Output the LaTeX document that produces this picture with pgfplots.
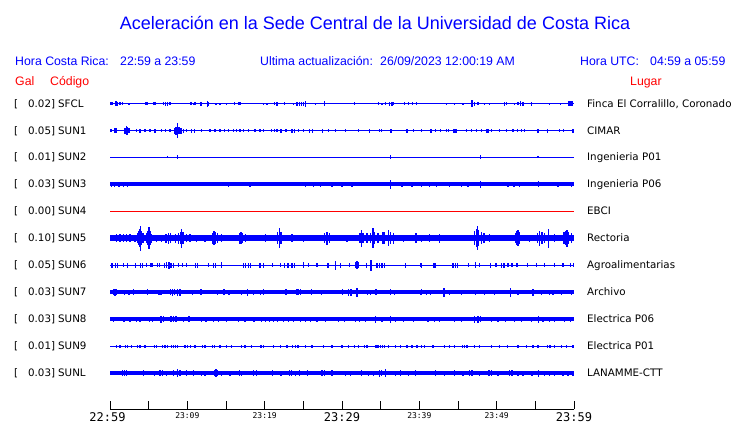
\documentclass[border=0pt]{standalone}
\usepackage{fontspec}
\setmainfont{DejaVu Sans}
\newfontfamily\arialf{Liberation Sans}
\newfontfamily\monof{DejaVu Sans Mono}
\usepackage{pgfplots}
\pgfplotsset{compat=1.18}
\usepackage{pgfplotstable}

% bursts: x = minutes after 22:59, y = trace baseline, e = half amplitude (px)
\pgfplotstableread{
x y e
0.13 -103.7 1.5
0.30 -103.7 1.5
0.77 -103.7 2.5
0.94 -103.7 2.0
1.29 -103.7 1.5
1.59 -103.7 1.5
2.45 -103.7 1.2
4.65 -103.7 1.5
4.87 -103.7 1.5
5.60 -103.7 1.5
5.82 -103.7 1.5
6.89 -103.7 1.5
7.20 -103.7 2
7.45 -103.7 2
7.76 -103.7 1.5
10.47 -103.7 1.5
10.77 -103.7 1.2
10.99 -103.7 1.5
11.72 -103.7 2
11.85 -103.7 2
12.58 -103.7 3
12.71 -103.7 2
13.70 -103.7 1.2
14.22 -103.7 1.2
15.08 -103.7 1.2
16.07 -103.7 1.5
16.59 -103.7 1.5
16.81 -103.7 1.5
19.87 -103.7 1.2
20.30 -103.7 1.2
21.30 -103.7 1.5
21.60 -103.7 2
22.59 -103.7 1.5
23.75 -103.7 1.2
24.19 -103.7 2
24.49 -103.7 2
24.75 -103.7 2
25.05 -103.7 2
25.26 -103.7 3
26.56 -103.7 1.2
27.72 -103.7 2.5
31.60 -103.7 1.5
34.75 -103.7 1.5
35.18 -103.7 1.2
35.61 -103.7 1.5
36.17 -103.7 2
36.47 -103.7 2
36.69 -103.7 1.5
38.07 -103.7 1.5
38.62 -103.7 1.5
39.14 -103.7 1.5
39.62 -103.7 1.5
43.49 -103.7 1.2
44.57 -103.7 1.2
45.65 -103.7 1.2
46.81 -103.7 3.3
47.16 -103.7 2
47.59 -103.7 1.5
48.45 -103.7 1.2
49.10 -103.7 1.2
51.04 -103.7 2
51.25 -103.7 1.5
52.33 -103.7 1.2
52.76 -103.7 1.5
53.10 -103.7 2.5
53.41 -103.7 2
54.49 -103.7 2
56.86 -103.7 1.2
58.28 -103.7 1.2
59.31 -103.7 2.3
59.50 -103.7 2.3
59.66 -103.7 2.3
59.85 -103.7 2.3
}\tSFCL

\pgfplotstableread{
x y e
0.13 -130.5 1.5
0.56 -130.5 2.3
0.77 -130.5 2.3
1.94 -130.5 3
2.11 -130.5 4.3
2.28 -130.5 4
2.45 -130.5 2.5
3.44 -130.5 1.5
3.88 -130.5 2
4.52 -130.5 1.5
5.17 -130.5 1.5
5.82 -130.5 2
6.68 -130.5 1.5
7.20 -130.5 1.5
7.76 -130.5 1.5
8.32 -130.5 3
8.53 -130.5 4
8.70 -130.5 7.5
8.92 -130.5 3.5
9.18 -130.5 3
9.48 -130.5 2
9.91 -130.5 1.5
10.56 -130.5 2
10.90 -130.5 2
11.85 -130.5 1.5
12.93 -130.5 1.5
13.57 -130.5 1.5
14.22 -130.5 1.5
14.78 -130.5 1.5
15.30 -130.5 1.5
15.95 -130.5 1.5
16.38 -130.5 1.5
16.81 -130.5 1.5
17.24 -130.5 1.5
17.88 -130.5 1.5
18.75 -130.5 1.5
19.39 -130.5 1.5
19.88 -130.5 1.5
20.87 -130.5 1.5
21.30 -130.5 1.5
21.60 -130.5 1.5
22.12 -130.5 2
22.76 -130.5 1.5
23.54 -130.5 2
23.84 -130.5 2
24.40 -130.5 1.5
25.05 -130.5 1.5
25.82 -130.5 2
26.21 -130.5 2
27.50 -130.5 2
28.28 -130.5 1.5
29.14 -130.5 1.5
30.44 -130.5 1.5
32.16 -130.5 1.5
33.54 -130.5 2
34.83 -130.5 1.5
35.09 -130.5 1.5
36.34 -130.5 2
38.41 -130.5 2
39.27 -130.5 1.5
40.26 -130.5 1.5
41.51 -130.5 2
42.11 -130.5 1.5
42.76 -130.5 1.5
43.49 -130.5 1.5
43.80 -130.5 1.5
44.49 -130.5 2
44.74 -130.5 2
46.08 -130.5 1.5
46.73 -130.5 1.5
47.37 -130.5 1.5
48.02 -130.5 1.5
48.75 -130.5 2
48.97 -130.5 2
49.31 -130.5 1.5
50.39 -130.5 1.5
51.25 -130.5 1.5
52.11 -130.5 1.5
52.67 -130.5 1.5
53.19 -130.5 1.5
53.62 -130.5 1.5
55.35 -130.5 2
56.55 -130.5 2
58.15 -130.5 1.5
58.67 -130.5 1.5
59.87 -130.5 2
}\tSUNa

\pgfplotstableread{
x y e
7.41 -157.3 1
8.70 -157.3 2
36.25 -157.3 2
47.89 -157.3 2
55.35 -157.3 1
}\tSUNb

\pgfplotstableread{
x y e
0.21 -184.3 2.5
0.56 -184.3 2.5
1.16 -184.3 2.5
1.72 -184.3 2.5
2.28 -184.3 2.5
15.30 -184.3 2.5
18.10 -184.3 2.5
25.26 -184.3 2.5
26.34 -184.3 2.5
27.20 -184.3 2.5
28.71 -184.3 2.5
30.00 -184.3 2.5
31.30 -184.3 2.5
36.25 -184.3 4.5
37.76 -184.3 2.5
39.06 -184.3 2.5
40.26 -184.3 2.5
41.34 -184.3 2.5
42.20 -184.3 2.5
43.92 -184.3 2.5
45.43 -184.3 2.5
46.30 -184.3 2.5
47.89 -184.3 3.5
51.47 -184.3 2.5
52.24 -184.3 2.5
52.98 -184.3 2.5
55.43 -184.3 3
57.93 -184.3 2.5
59.66 -184.3 2.5
}\tSUNc

\pgfplotstableread{
x y e
0.21 -238.1 3.3
0.86 -238.1 4
1.29 -238.1 4
1.72 -238.1 3.7
2.15 -238.1 4
2.58 -238.1 3.7
3.23 -238.1 3.5
3.57 -238.1 5
3.75 -238.1 7
3.88 -238.1 9
3.96 -238.1 12.5
4.09 -238.1 7
4.26 -238.1 5
4.74 -238.1 5
4.91 -238.1 7
5.04 -238.1 11
5.17 -238.1 7
5.38 -238.1 4.5
6.03 -238.1 3.5
6.68 -238.1 3.5
7.24 -238.1 4.5
7.54 -238.1 5.5
7.84 -238.1 5
8.49 -238.1 4.5
8.83 -238.1 5.5
9.09 -238.1 6
9.26 -238.1 9.5
9.44 -238.1 6
9.91 -238.1 4
10.34 -238.1 4
11.20 -238.1 3.5
12.28 -238.1 3.5
13.23 -238.1 5.5
13.44 -238.1 7
13.66 -238.1 6
13.88 -238.1 5
14.44 -238.1 4
15.73 -238.1 3.3
16.72 -238.1 5.5
16.94 -238.1 6
17.11 -238.1 5
17.54 -238.1 4
18.75 -238.1 3.3
19.61 -238.1 3.3
20.09 -238.1 4
21.69 -238.1 6
21.90 -238.1 10
22.12 -238.1 6
23.54 -238.1 4
25.05 -238.1 3.5
27.76 -238.1 5
28.07 -238.1 6.5
28.37 -238.1 5
30.65 -238.1 3.5
32.33 -238.1 5
32.50 -238.1 8.5
32.72 -238.1 5
33.24 -238.1 5
33.67 -238.1 5
34.01 -238.1 10
34.23 -238.1 6
34.66 -238.1 5
35.30 -238.1 6
35.52 -238.1 6
36.04 -238.1 8
36.30 -238.1 6
36.69 -238.1 5.5
37.98 -238.1 3.5
39.57 -238.1 5
40.26 -238.1 3.5
41.34 -238.1 4
42.63 -238.1 4.5
45.00 -238.1 3.3
47.16 -238.1 7
47.37 -238.1 9
47.50 -238.1 12
47.67 -238.1 8
48.02 -238.1 6
48.36 -238.1 5
49.10 -238.1 4
51.04 -238.1 3.3
52.42 -238.1 5
52.63 -238.1 7
52.76 -238.1 8
52.98 -238.1 6
54.27 -238.1 3.5
55.26 -238.1 5
55.56 -238.1 7.5
55.86 -238.1 6
56.21 -238.1 5
56.68 -238.1 9.5
57.50 -238.1 4
58.71 -238.1 6
58.93 -238.1 7
59.10 -238.1 8.5
59.31 -238.1 6
59.66 -238.1 5
}\tSUNe

\pgfplotstableread{
x y e
0.21 -265.2 2.5
0.34 -265.2 2.5
0.73 -265.2 2.5
0.94 -265.2 2.5
1.72 -265.2 2
2.28 -265.2 2.5
3.27 -265.2 2.5
3.92 -265.2 2.5
4.18 -265.2 2.5
4.74 -265.2 2
5.30 -265.2 2
5.47 -265.2 2
6.16 -265.2 2
6.38 -265.2 2
7.02 -265.2 2.5
7.32 -265.2 3
7.63 -265.2 3.3
7.88 -265.2 2.5
8.19 -265.2 2.5
8.83 -265.2 2
9.35 -265.2 2
9.91 -265.2 2
11.07 -265.2 2.5
11.33 -265.2 2.5
12.71 -265.2 2
13.36 -265.2 2.5
13.66 -265.2 2.5
14.44 -265.2 3
17.24 -265.2 2.5
17.54 -265.2 2.5
17.88 -265.2 2.5
18.19 -265.2 2.5
19.39 -265.2 2.5
19.82 -265.2 2.5
19.88 -265.2 2.5
21.04 -265.2 2
22.03 -265.2 2
22.59 -265.2 2.5
23.02 -265.2 2.5
23.54 -265.2 2.5
23.88 -265.2 2.5
25.05 -265.2 3
25.69 -265.2 2
26.77 -265.2 2
28.19 -265.2 2.5
29.14 -265.2 4.3
29.79 -265.2 2.5
30.95 -265.2 2
31.73 -265.2 3
31.94 -265.2 4
32.16 -265.2 3
33.19 -265.2 2.5
33.75 -265.2 5.5
34.53 -265.2 2.5
34.83 -265.2 2.5
35.18 -265.2 2.5
35.52 -265.2 2.5
38.19 -265.2 2.5
40.13 -265.2 2
40.26 -265.2 2.5
41.90 -265.2 2.5
42.11 -265.2 2.5
44.36 -265.2 2.5
44.66 -265.2 2.5
44.92 -265.2 2.5
46.38 -265.2 2
47.24 -265.2 3
47.80 -265.2 2
49.23 -265.2 2.5
49.92 -265.2 2
50.61 -265.2 2.5
50.95 -265.2 2.5
51.47 -265.2 2
51.99 -265.2 2
52.63 -265.2 2
53.97 -265.2 2
55.13 -265.2 2
56.21 -265.2 2
57.50 -265.2 2
58.58 -265.2 2
59.57 -265.2 2
59.92 -265.2 2
}\tSUNf

\pgfplotstableread{
x y e
0.43 -292.2 3
0.64 -292.2 3.7
0.86 -292.2 3
1.85 -292.2 2.5
2.45 -292.2 2.5
3.06 -292.2 3
4.82 -292.2 3
6.33 -292.2 2.5
6.59 -292.2 2.5
7.84 -292.2 3
8.06 -292.2 3.7
8.32 -292.2 3
8.75 -292.2 3.3
9.05 -292.2 3.3
10.64 -292.2 2.5
11.76 -292.2 3
13.88 -292.2 2.5
14.74 -292.2 3
15.38 -292.2 2.5
17.02 -292.2 2.7
17.80 -292.2 3.7
18.53 -292.2 2.5
19.44 -292.2 2.5
19.88 -292.2 3
22.76 -292.2 3
24.10 -292.2 3
24.31 -292.2 3
24.62 -292.2 3
26.04 -292.2 3
27.33 -292.2 2.7
30.09 -292.2 3
30.87 -292.2 3.5
31.17 -292.2 3.5
31.94 -292.2 4.3
33.32 -292.2 2.5
33.67 -292.2 2.5
34.40 -292.2 3
36.25 -292.2 3
36.77 -292.2 2.5
40.13 -292.2 2.7
40.26 -292.2 3
40.91 -292.2 2.5
41.47 -292.2 2.5
43.19 -292.2 4.3
43.92 -292.2 2.5
45.43 -292.2 2.5
47.24 -292.2 2.5
48.45 -292.2 2.5
49.74 -292.2 2.7
51.81 -292.2 4.5
52.76 -292.2 2.5
54.70 -292.2 3.5
55.78 -292.2 2.5
56.86 -292.2 2.7
57.29 -292.2 2.7
58.36 -292.2 2.5
59.66 -292.2 2.5
}\tSUNg

\pgfplotstableread{
x y e
0.43 -319.2 2.7
1.81 -319.2 2.5
2.58 -319.2 2.5
3.44 -319.2 2.7
3.88 -319.2 2.7
5.08 -319.2 2.7
5.47 -319.2 2.7
6.59 -319.2 3.3
6.94 -319.2 3
7.88 -319.2 3
8.19 -319.2 3
8.53 -319.2 3
9.48 -319.2 2.5
10.21 -319.2 3
11.85 -319.2 2.5
12.41 -319.2 2.5
13.36 -319.2 2.5
14.00 -319.2 2.5
15.08 -319.2 2.5
16.59 -319.2 2.7
17.45 -319.2 2.5
18.62 -319.2 2.5
19.61 -319.2 2.5
20.09 -319.2 2.7
20.61 -319.2 2.7
21.17 -319.2 2.7
21.69 -319.2 2.7
22.46 -319.2 2.7
23.11 -319.2 2.7
23.75 -319.2 2.7
24.62 -319.2 2.7
25.26 -319.2 2.7
25.91 -319.2 2.7
26.77 -319.2 2.5
27.85 -319.2 2.5
29.57 -319.2 2.5
30.35 -319.2 2.7
31.73 -319.2 2.7
32.25 -319.2 2.7
33.02 -319.2 2.5
34.31 -319.2 3.5
35.18 -319.2 2.5
36.25 -319.2 3.7
36.90 -319.2 2.5
37.98 -319.2 2.5
39.27 -319.2 2.5
41.12 -319.2 2.5
41.99 -319.2 2.5
42.63 -319.2 2.5
44.57 -319.2 2.5
45.43 -319.2 2.5
47.16 -319.2 3.3
47.59 -319.2 3.3
47.93 -319.2 3
49.31 -319.2 2.5
50.17 -319.2 2.5
51.12 -319.2 2.5
52.33 -319.2 2.5
53.19 -319.2 2.5
54.49 -319.2 2.5
55.43 -319.2 3.7
55.99 -319.2 2.5
56.86 -319.2 2.5
57.50 -319.2 2.5
58.80 -319.2 2.5
59.57 -319.2 2.7
}\tSUNh

\pgfplotstableread{
x y e
0.86 -346.2 1.5
1.29 -346.2 1.5
2.02 -346.2 1.7
2.28 -346.2 1.7
2.80 -346.2 1.5
3.53 -346.2 1.7
3.88 -346.2 1.7
4.52 -346.2 1.5
5.73 -346.2 1.7
6.03 -346.2 1.7
6.76 -346.2 1.7
7.11 -346.2 1.7
7.45 -346.2 1.7
7.97 -346.2 1.7
8.23 -346.2 1.7
8.49 -346.2 1.7
8.75 -346.2 1.7
9.70 -346.2 1.7
10.04 -346.2 1.7
10.38 -346.2 1.7
10.99 -346.2 1.5
11.98 -346.2 1.7
12.28 -346.2 1.7
13.23 -346.2 1.7
13.49 -346.2 1.7
14.22 -346.2 1.5
15.08 -346.2 1.5
15.73 -346.2 1.5
17.02 -346.2 1.5
17.45 -346.2 1.5
18.32 -346.2 1.5
19.52 -346.2 1.7
19.88 -346.2 1.5
21.17 -346.2 1.5
22.03 -346.2 1.5
22.89 -346.2 1.5
23.63 -346.2 1.7
23.97 -346.2 1.7
24.31 -346.2 1.7
25.26 -346.2 1.5
26.13 -346.2 1.5
27.63 -346.2 1.5
28.71 -346.2 1.5
30.00 -346.2 1.5
30.87 -346.2 1.5
31.60 -346.2 1.7
32.16 -346.2 1.5
32.94 -346.2 1.7
33.24 -346.2 1.7
34.40 -346.2 1.7
34.66 -346.2 1.7
34.96 -346.2 1.7
35.26 -346.2 1.7
35.52 -346.2 1.7
36.04 -346.2 1.7
36.90 -346.2 1.5
37.55 -346.2 1.5
38.41 -346.2 1.5
39.06 -346.2 1.5
39.70 -346.2 1.5
40.26 -346.2 1.5
40.69 -346.2 1.5
41.77 -346.2 1.5
43.28 -346.2 1.5
43.92 -346.2 1.5
44.57 -346.2 1.5
45.56 -346.2 1.7
45.86 -346.2 1.7
46.17 -346.2 1.7
47.16 -346.2 1.5
47.80 -346.2 1.7
49.31 -346.2 1.7
50.39 -346.2 1.5
51.38 -346.2 1.7
52.76 -346.2 1.5
53.84 -346.2 1.5
54.70 -346.2 1.5
55.35 -346.2 1.5
56.55 -346.2 1.7
56.90 -346.2 1.7
57.50 -346.2 1.5
58.36 -346.2 1.5
59.01 -346.2 1.5
59.87 -346.2 1.5
}\tSUNi

\pgfplotstableread{
x y e
1.59 -373.0 3
1.85 -373.0 3.3
2.15 -373.0 3
4.31 -373.0 2.7
5.73 -373.0 2.5
6.46 -373.0 2.7
6.76 -373.0 2.7
7.32 -373.0 2.5
8.19 -373.0 2.7
8.70 -373.0 4
9.05 -373.0 2.7
9.91 -373.0 2.7
10.82 -373.0 2.7
11.85 -373.0 2.5
12.28 -373.0 2.5
13.49 -373.0 3
13.70 -373.0 4
13.92 -373.0 3
14.44 -373.0 2.5
15.51 -373.0 2.5
16.72 -373.0 2.7
17.02 -373.0 2.5
18.53 -373.0 3
18.96 -373.0 3
21.04 -373.0 3
22.12 -373.0 2.5
23.19 -373.0 3
23.45 -373.0 3
23.97 -373.0 2.5
24.49 -373.0 2.7
25.56 -373.0 3
27.42 -373.0 2.7
27.76 -373.0 2.7
28.71 -373.0 2.7
30.44 -373.0 2.5
31.08 -373.0 2.5
32.50 -373.0 3
33.45 -373.0 2.5
34.10 -373.0 2.5
34.83 -373.0 3.5
35.09 -373.0 3
35.61 -373.0 4
36.90 -373.0 2.5
37.55 -373.0 2.7
38.62 -373.0 2.5
39.49 -373.0 2.7
42.07 -373.0 3
43.28 -373.0 2.5
44.57 -373.0 3
45.65 -373.0 2.5
46.51 -373.0 3
46.81 -373.0 3
47.80 -373.0 2.5
49.01 -373.0 3
49.31 -373.0 3
50.17 -373.0 2.5
51.68 -373.0 3
51.99 -373.0 3
52.76 -373.0 2.5
53.41 -373.0 2.5
54.57 -373.0 2.5
55.43 -373.0 3.5
56.21 -373.0 2.5
56.86 -373.0 2.5
57.50 -373.0 2.5
58.58 -373.0 2.5
59.23 -373.0 2.5
59.87 -373.0 2.5
}\tSUNL

\newcommand{\stn}[4]{%
  \node[lab,anchor=base west] at (14pt,-#4pt) {[};
  \node[lab,anchor=base east] at (55.3pt,-#4pt) {#1]};
  \node[lab,anchor=base west] at (58pt,-#4pt) {#2};
  \node[lab,anchor=base west] at (587pt,-#4pt) {#3};}

\begin{document}
\begin{tikzpicture}
\useasboundingbox (0,0) rectangle (740pt,-423pt);
\begin{axis}[
  at={(110pt,-409.3pt)}, anchor=south west,
  scale only axis, width=464pt, height=319.3pt,
  xmin=0, xmax=60, ymin=-409.3, ymax=-90,
  clip=false,
  axis x line=bottom, axis y line=none, ytick=\empty,
  x axis line style={-, line width=1pt, black},
  xtick={0,5,...,60},
  tick align=inside, major tick length=8.7pt,
  tick style={black, line width=1pt},
  xticklabel style={anchor=north, inner sep=0pt, yshift=-2.7pt, font=\monof},
  xticklabels={{\fontsize{12}{12}\selectfont\hspace*{-5pt}22:59},{},{\fontsize{8}{8}\selectfont 23:09},{},{\fontsize{8}{8}\selectfont 23:19},{},{\fontsize{12}{12}\selectfont 23:29},{},{\fontsize{8}{8}\selectfont 23:39},{},{\fontsize{8}{8}\selectfont 23:49},{},{\fontsize{12}{12}\selectfont 23:59}},
  burst/.style={draw=none, mark=none, forget plot,
    error bars/.cd, y dir=both, y explicit, error mark=none,
    error bar style={draw=blue, solid, line width=1.3pt}},
]
% baselines of the traces
\addplot[blue, line width=1.2pt] coordinates {(0,-103.7) (60,-103.7)};
\addplot[blue, line width=1.5pt] coordinates {(0,-130.5) (60,-130.5)};
\addplot[blue, line width=1.2pt] coordinates {(0,-157.3) (60,-157.3)};
\addplot[blue, line width=4pt] coordinates {(0,-184.3) (60,-184.3)};
\addplot[red, line width=1.3pt] coordinates {(0,-211.3) (60,-211.3)};
\addplot[blue, line width=5.7pt] coordinates {(0,-238.1) (60,-238.1)};
\addplot[blue, line width=1.2pt] coordinates {(0,-265.2) (60,-265.2)};
\addplot[blue, line width=3.7pt] coordinates {(0,-292.2) (60,-292.2)};
\addplot[blue, line width=3.7pt] coordinates {(0,-319.2) (60,-319.2)};
\addplot[blue, line width=1.1pt] coordinates {(0,-346.2) (60,-346.2)};
\addplot[blue, line width=3.7pt] coordinates {(0,-373.0) (60,-373.0)};
% bursts
\addplot[burst] table[x=x,y=y,y error=e] {\tSFCL};
\addplot[burst] table[x=x,y=y,y error=e] {\tSUNa};
\addplot[burst] table[x=x,y=y,y error=e] {\tSUNb};
\addplot[burst] table[x=x,y=y,y error=e] {\tSUNc};
\addplot[burst] table[x=x,y=y,y error=e] {\tSUNe};
\addplot[burst] table[x=x,y=y,y error=e] {\tSUNf};
\addplot[burst] table[x=x,y=y,y error=e] {\tSUNg};
\addplot[burst] table[x=x,y=y,y error=e] {\tSUNh};
\addplot[burst] table[x=x,y=y,y error=e] {\tSUNi};
\addplot[burst] table[x=x,y=y,y error=e] {\tSUNL};
\end{axis}

\tikzset{lab/.style={inner sep=0pt, font=\fontsize{10.3}{10.3}\selectfont},
  hdr/.style={inner sep=0pt, anchor=base west, text=blue, font=\arialf\fontsize{12.3}{12.3}\selectfont},
  hdrr/.style={inner sep=0pt, anchor=base west, text=red, font=\arialf\fontsize{12.3}{12.3}\selectfont}}

\node[inner sep=0pt, anchor=base, text=blue, font=\arialf\fontsize{18}{18}\selectfont] at (375pt,-29pt) {Aceleración en la Sede Central de la Universidad de Costa Rica};

\node[hdr] at (15pt,-65pt) {Hora Costa Rica:};
\node[hdr] at (120pt,-65pt) {22:59 a 23:59};
\node[hdr] at (260pt,-65pt) {Ultima actualización:};
\node[hdr] at (380pt,-65pt) {26/09/2023 12:00:19 AM};
\node[hdr] at (580pt,-65pt) {Hora UTC:};
\node[hdr] at (650pt,-65pt) {04:59 a 05:59};
\node[hdrr] at (15pt,-85pt) {Gal};
\node[hdrr] at (50pt,-85pt) {Código};
\node[hdrr] at (630pt,-85pt) {Lugar};

\stn{0.02}{SFCL}{Finca El Corralillo, Coronado}{107.3}
\stn{0.05}{SUN1}{CIMAR}{134.1}
\stn{0.01}{SUN2}{Ingenieria P01}{160.9}
\stn{0.03}{SUN3}{Ingenieria P06}{187.9}
\stn{0.00}{SUN4}{EBCI}{214.9}
\stn{0.10}{SUN5}{Rectoria}{241.7}
\stn{0.05}{SUN6}{Agroalimentarias}{268.8}
\stn{0.03}{SUN7}{Archivo}{295.8}
\stn{0.03}{SUN8}{Electrica P06}{322.8}
\stn{0.01}{SUN9}{Electrica P01}{349.8}
\stn{0.03}{SUNL}{LANAMME-CTT}{376.6}
\end{tikzpicture}
\end{document}
